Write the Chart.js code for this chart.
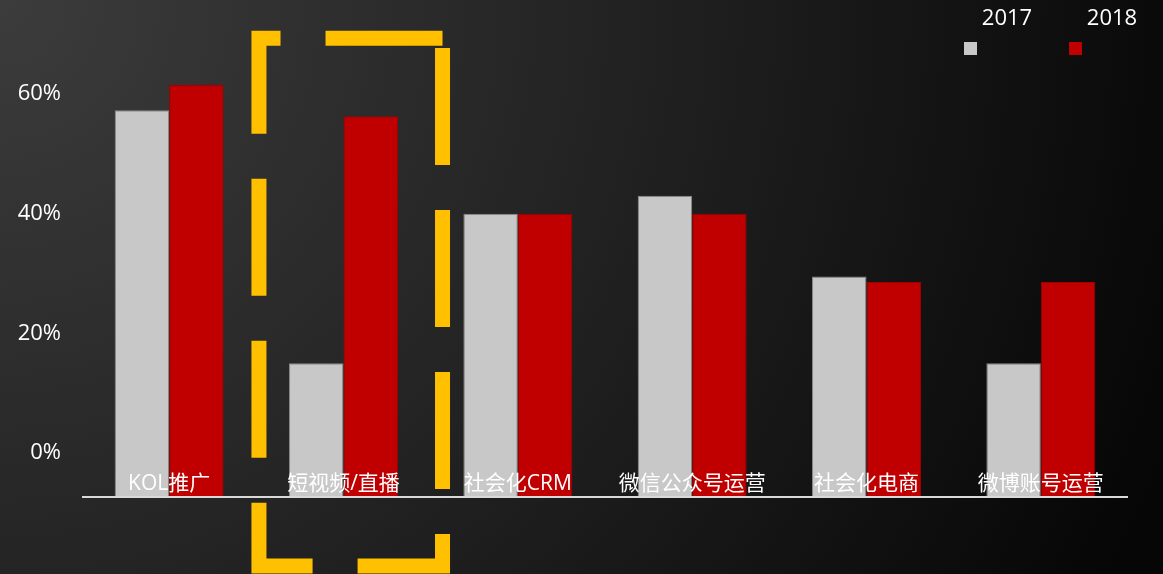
<!DOCTYPE html>
<html>
<head>
<meta charset="utf-8">
<script src="https://cdn.jsdelivr.net/npm/chart.js@4"></script>
<style>
  body { margin: 0; }
  #wrap {
    width: 1163px; height: 574px;
    background: radial-gradient(circle at 0 0, #3c3c3c 0px, #232323 600px, #060606 1250px);
  }
</style>
</head>
<body>
<div id="wrap"><canvas id="myChart" width="1163" height="574"></canvas></div>
<script>
// chart data
var categories = ["KOL推广", "短视频/直播", "社会化CRM", "微信公众号运营", "社会化电商", "微博账号运营"];
var series_names = ["2017", "2018"];
var values_2017 = [57.3, 15, 40, 43, 29.5, 15];
var values_2018 = [61.5, 56.3, 40, 40, 28.6, 28.6];
var tick_values = [0, 20, 40, 60];
var axis_min = -7.33;
var axis_max = 70;
var highlight_index = 1;

var font_family = "'Open Sans', 'Noto Sans CJK SC', sans-serif";

function floating(values) {
	return values.map(function (v) { return [axis_min, v]; });
}

// category labels, baseline, legend and the dashed highlight box
var extras = {
	id: 'extras',
	afterDatasetsDraw: function (chart) {
		var ctx = chart.ctx;
		var area = chart.chartArea;
		var x = chart.scales.x;
		ctx.save();
		ctx.strokeStyle = '#d9d9d9';
		ctx.lineWidth = 2;
		ctx.beginPath();
		ctx.moveTo(area.left, area.bottom);
		ctx.lineTo(area.right, area.bottom);
		ctx.stroke();

		ctx.fillStyle = '#ffffff';
		ctx.font = '21px ' + font_family;
		ctx.textAlign = 'center';
		ctx.textBaseline = 'middle';
		chart.data.labels.forEach(function (lab, i) {
			ctx.fillText(lab, x.getPixelForValue(i), area.bottom - 13);
		});

		// legend
		var legend_x = [1007, 1112];
		ctx.font = '22px ' + font_family;
		chart.data.datasets.forEach(function (ds, i) {
			ctx.fillStyle = '#ffffff';
			ctx.fillText(ds.label, legend_x[i], 19);
			ctx.fillStyle = ds.backgroundColor;
			ctx.fillRect(legend_x[i] - 43, 42, 13, 13);
		});
		ctx.restore();
	},
	afterDraw: function (chart) {
		var ctx = chart.ctx;
		var area = chart.chartArea;
		var x = chart.scales.x;
		var cx = x.getPixelForValue(highlight_index);
		var cw = x.getPixelForValue(1) - x.getPixelForValue(0);
		var left = cx - 0.485 * cw;
		var right = cx + 0.568 * cw;
		var top = area.top + 4;
		var bottom = area.bottom + 69;
		ctx.save();
		ctx.strokeStyle = '#ffc000';
		ctx.lineWidth = 15;
		ctx.lineCap = 'butt';
		ctx.lineJoin = 'miter';
		ctx.setLineDash([117, 45]);
		ctx.beginPath();
		ctx.moveTo(right, top);
		ctx.lineTo(left, top);
		ctx.lineTo(left, bottom);
		ctx.lineTo(right, bottom);
		ctx.closePath();
		ctx.stroke();
		ctx.restore();
	}
};

var ctx = document.getElementById("myChart");
var myChart = new Chart(ctx, {
	type: 'bar',
	data: {
		labels: categories,
		datasets: [{
			label: series_names[0],
			data: floating(values_2017),
			backgroundColor: '#c8c8c8',
			borderColor: '#8a8a8a',
			borderWidth: 1,
			borderSkipped: 'bottom'
		}, {
			label: series_names[1],
			data: floating(values_2018),
			backgroundColor: '#c00000',
			borderColor: '#a00000',
			borderWidth: 1,
			borderSkipped: 'bottom'
		}]
	},
	options: {
		responsive: false,
		animation: false,
		layout: { padding: { top: 33, bottom: 77, right: 35, left: 0 } },
		categoryPercentage: 0.625,
		barPercentage: 1.0,
		plugins: {
			legend: { display: false },
			tooltip: { enabled: false }
		},
		scales: {
			x: {
				display: false
			},
			y: {
				min: axis_min,
				max: axis_max,
				grid: { display: false, drawTicks: false },
				border: { display: false },
				afterBuildTicks: function (scale) {
					scale.ticks = tick_values.map(function (v) { return { value: v }; });
				},
				afterFit: function (scale) { scale.width = 82; },
				ticks: {
					color: '#ffffff',
					padding: 21,
					font: { size: 22, family: font_family },
					callback: function (v) { return v + '%'; }
				}
			}
		}
	},
	plugins: [extras]
});
</script>
</body>
</html>
